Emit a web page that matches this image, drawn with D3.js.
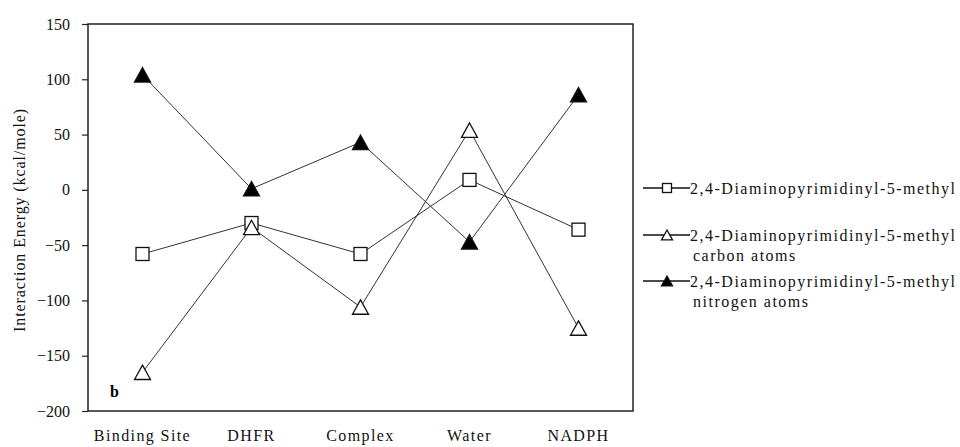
<!DOCTYPE html>
<html>
<head>
<meta charset="utf-8">
<script src="https://cdn.jsdelivr.net/npm/d3@7"></script>
<style>
  body { margin: 0; background: #fff; }
  svg { display: block; }
  svg text { font-family: "Liberation Serif", "Times New Roman", "DejaVu Serif", serif; }
</style>
</head>
<body>
<div id="chart"></div>
<script>
const categories = ["Binding Site", "DHFR", "Complex", "Water", "NADPH"];
const yTicks = [150, 100, 50, 0, -50, -100, -150, -200];

const methylValues = [-58, -30, -58, 9, -36];
const carbonValues = [-165, -34, -106, 54, -125];
const nitrogenValues = [104, 1, 43, -47, 86];

const series = [
  { name: ["2,4-Diaminopyrimidinyl-5-methyl"], values: methylValues, shape: "square", fill: "#fff" },
  { name: ["2,4-Diaminopyrimidinyl-5-methyl", "carbon atoms"], values: carbonValues, shape: "triangle", fill: "#fff" },
  { name: ["2,4-Diaminopyrimidinyl-5-methyl", "nitrogen atoms"], values: nitrogenValues, shape: "triangle", fill: "#000" },
];

const W = 960, H = 447;
const plot = { left: 88, right: 633, top: 24, bottom: 411 };

const svg = d3.select("#chart").append("svg")
  .attr("width", W).attr("height", H);

const x = d3.scalePoint().domain(categories)
  .range([plot.left, plot.right]).padding(0.5);
const y = d3.scaleLinear().domain([-200, 150])
  .range([plot.bottom, plot.top]);

// frame
svg.append("rect")
  .attr("x", plot.left).attr("y", plot.top)
  .attr("width", plot.right - plot.left).attr("height", plot.bottom - plot.top)
  .attr("fill", "none").attr("stroke", "#222").attr("stroke-width", 1.5);

// y axis
const yAxis = svg.append("g")
  .attr("transform", `translate(${plot.left},0)`)
  .call(d3.axisLeft(y).tickValues(yTicks).tickSize(6).tickPadding(12));
yAxis.select(".domain").remove();
yAxis.attr("font-family", null);
yAxis.selectAll("line").attr("stroke", "#222").attr("stroke-width", 1.2);
yAxis.selectAll("text").attr("font-size", 16).attr("fill", "#111");

// x labels
svg.append("g").selectAll("text").data(categories).join("text")
  .attr("x", d => x(d)).attr("y", 441)
  .attr("text-anchor", "middle").attr("font-size", 16).attr("fill", "#111")
  .attr("letter-spacing", 1.4)
  .text(d => d);

// y title
svg.append("text")
  .attr("transform", `translate(25,${220}) rotate(-90)`)
  .attr("text-anchor", "middle").attr("font-size", 16).attr("fill", "#111")
  .attr("letter-spacing", 0.9)
  .text("Interaction Energy (kcal/mole)");

// panel letter
svg.append("text").attr("x", 110).attr("y", 397)
  .attr("font-size", 16).attr("font-weight", "bold").text("b");

const line = d3.line().x((d, i) => x(categories[i])).y(d => y(d));

function marker(g, s, cx, cy, size) {
  if (s.shape === "square") {
    g.append("rect").attr("x", cx - size / 2).attr("y", cy - size / 2)
      .attr("width", size).attr("height", size)
      .attr("fill", s.fill).attr("stroke", "#111").attr("stroke-width", 1.3);
  } else {
    const h = size * 0.9;
    g.append("path")
      .attr("d", `M${cx},${cy - h / 2}L${cx + size / 2},${cy + h / 2}L${cx - size / 2},${cy + h / 2}Z`)
      .attr("fill", s.fill).attr("stroke", "#111").attr("stroke-width", 1.3);
  }
}

series.forEach(s => {
  svg.append("path").datum(s.values)
    .attr("d", line).attr("fill", "none")
    .attr("stroke", "#333").attr("stroke-width", 1);
  const g = svg.append("g");
  s.values.forEach((v, i) => marker(g, s, x(categories[i]), y(v), s.shape === "square" ? 13 : 16));
});

// legend
const legY = [188, 235, 281];
series.forEach((s, i) => {
  const g = svg.append("g");
  g.append("line").attr("x1", 643).attr("x2", 690)
    .attr("y1", legY[i]).attr("y2", legY[i]).attr("stroke", "#111").attr("stroke-width", 1.3);
  marker(g, s, 667, legY[i], s.shape === "square" ? 9 : 11);
  s.name.forEach((t, j) => {
    g.append("text").attr("x", j === 0 ? 690 : 693).attr("y", legY[i] + 5.5 + j * 20)
      .attr("font-size", 16).attr("fill", "#111").attr("letter-spacing", 1.5).text(t);
  });
});
</script>
</body>
</html>
